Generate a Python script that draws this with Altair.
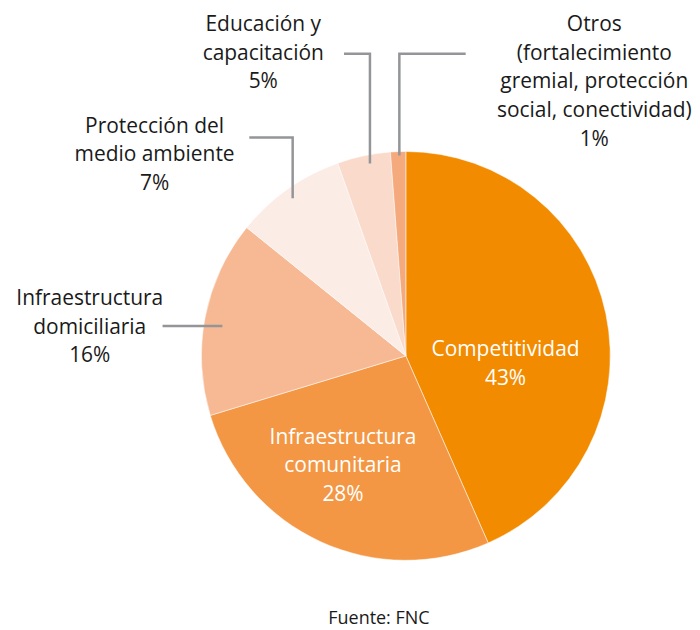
import altair as alt
import pandas as pd

categorias = [
    "Competitividad",
    "Infraestructura comunitaria",
    "Infraestructura domiciliaria",
    "Protección del medio ambiente",
    "Educación y capacitación",
    "Otros",
]
valores = [43.4, 26.9, 15.5, 8.8, 4.2, 1.2]
etiquetas_pct = ["43%", "28%", "16%", "7%", "5%", "1%"]
colores = ["#F28B00", "#F39744", "#F6B994", "#FCECE6", "#F9DACB", "#F4AA7C"]

etiquetas_texto = [
    "Competitividad",
    "Infraestructura\ncomunitaria",
    "Infraestructura\ndomiciliaria",
    "Protección del\nmedio ambiente",
    "Educación y\ncapacitación",
    "Otros\n(fortalecimiento\ngremial, protección\nsocial, conectividad)",
]

# Layout (positions in view pixels, y = centre of first line) kept separate from the data
CX, CY, R = 399, 348, 205
label_pos = {
    "Competitividad": (499, 342, "white"),
    "Infraestructura comunitaria": (336, 430, "white"),
    "Infraestructura domiciliaria": (82, 291, "#1a1a1a"),
    "Protección del medio ambiente": (147, 118, "#1a1a1a"),
    "Educación y capacitación": (256, 16, "#1a1a1a"),
    "Otros": (588, 16, "#1a1a1a"),
}
leaders = {
    "Otros": [(459, 45), (392.5, 45), (392.5, 147)],
    "Educación y capacitación": [(337, 45), (363, 45), (363, 155)],
    "Protección del medio ambiente": [(242, 129), (285.5, 129), (285.5, 190)],
    "Infraestructura domiciliaria": [(155, 318), (215, 318)],
}

df = pd.DataFrame({
    "categoria": categorias,
    "valor": valores,
    "orden": list(range(len(categorias))),
})

lab_rows = []
for c, t, p in zip(categorias, etiquetas_texto, etiquetas_pct):
    x, y, col = label_pos[c]
    lab_rows.append({"categoria": c, "texto": t + "\n" + p, "x": x, "y": y, "col": col})
df_lab = pd.DataFrame(lab_rows)

lead_rows = []
for c, pts in leaders.items():
    for i, (x, y) in enumerate(pts):
        lead_rows.append({"categoria": c, "i": i, "x": x, "y": y})
df_lead = pd.DataFrame(lead_rows)

FONT = "Open Sans"

pie = alt.Chart(df).mark_arc(outerRadius=R, stroke="white", strokeWidth=0.5).encode(
    theta=alt.Theta("valor:Q", stack=True),
    color=alt.Color("categoria:N", scale=alt.Scale(domain=categorias, range=colores), legend=None),
    order=alt.Order("orden:Q"),
    x=alt.value(CX),
    y=alt.value(CY),
)

lines = alt.Chart(df_lead).mark_line(color="#939598", strokeWidth=2.5, strokeCap="butt", strokeJoin="miter").encode(
    x=alt.X("x:Q", scale=None),
    y=alt.Y("y:Q", scale=None),
    detail="categoria:N",
    order="i:Q",
)

labels = alt.Chart(df_lab).mark_text(
    font=FONT, fontSize=21, lineBreak="\n", lineHeight=28.8, align="center", baseline="middle"
).encode(
    x=alt.X("x:Q", scale=None),
    y=alt.Y("y:Q", scale=None),
    text="texto:N",
    color=alt.Color("col:N", scale=None),
)

fuente = alt.Chart(pd.DataFrame({"t": ["Fuente: FNC"]})).mark_text(
    font=FONT, fontSize=18, align="center", baseline="middle", color="#1a1a1a"
).encode(
    x=alt.value(372),
    y=alt.value(612),
    text="t:N",
)

chart = alt.layer(pie, lines, labels, fuente).properties(
    width=684, height=614, padding=0, background="white"
).configure_view(stroke=None)

chart.save("out.html", embed_options={"renderer": "svg", "actions": False})
